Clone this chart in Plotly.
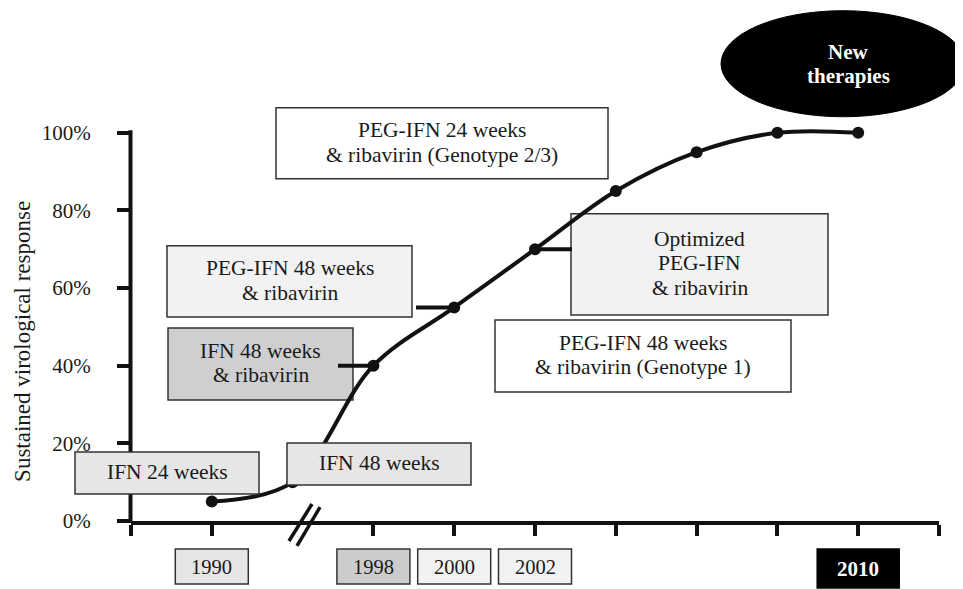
import plotly.graph_objects as go

# ---- data ----
x_idx = [1, 2, 3, 4, 5, 6, 7, 8, 9]
svr_pct = [5, 10, 40, 55, 70, 85, 95, 100, 100]
tick_positions = [0, 1, 3, 4, 5, 6, 7, 8, 9, 10]
year_idx = [1, 3, 4, 5, 9]
year_labels = ["1990", "1998", "2000", "2002", "2010"]
year_fills = ["#e6e6e6", "#cccccc", "#f2f2f2", "#f2f2f2", "#000000"]
y_ticks = [0, 20, 40, 60, 80, 100]

# the page body has an 8px default margin: work in reference pixels, shift by OFF
OFF = 8
W, H = 963 - OFF, 589 - OFF
YR = (0, 102)          # a little headroom so the 100% segment is not clipped
REF_L, REF_R, REF_B = 131, 939, 521
PX_PER_PCT = (521 - 133) / 100.0
REF_T = REF_B - (YR[1] - YR[0]) * PX_PER_PCT
ML, MT = REF_L - OFF, REF_T - OFF
MR, MB = W - (REF_R - OFF), H - (REF_B - OFF)
PW, PH = REF_R - REF_L, REF_B - REF_T
XR = (0, 10)

FONT = "Liberation Serif, Times New Roman, serif"
TXT = "#1a1a1a"
EDGE = "#333333"
INK = "#111111"


def px(p):  # reference pixel x -> paper
    return (p - REF_L) / PW


def py(p):  # reference pixel y -> paper
    return (REF_B - p) / PH


def dx(v):  # data x -> paper
    return (v - XR[0]) / (XR[1] - XR[0])


def dy(v):  # data y -> paper
    return (v - YR[0]) / (YR[1] - YR[0])


fig = go.Figure()
fig.add_trace(go.Scatter(
    x=x_idx, y=svr_pct, mode="lines+markers",
    line=dict(color=INK, width=4, shape="spline", smoothing=1.0),
    marker=dict(color=INK, size=12),
    cliponaxis=False, showlegend=False, hoverinfo="skip",
))

shapes = []
annotations = []


def add_text(lines, cx, cy, size, color, spacing, bold=False):
    n = len(lines)
    for i, ln in enumerate(lines):
        yy = cy + (i - (n - 1) / 2) * spacing
        annotations.append(dict(text=("<b>%s</b>" % ln) if bold else ln,
                                xref="paper", yref="paper",
                                x=px(cx), y=py(yy), xanchor="center", yanchor="middle",
                                showarrow=False,
                                font=dict(family=FONT, size=size, color=color)))


# y-axis line (stops just above the 100% tick)
shapes.append(dict(type="line", xref="paper", yref="paper",
                   x0=-0.5 / PW, x1=-0.5 / PW, y0=dy(0) - 2 / PH, y1=dy(100) + 2.5 / PH,
                   line=dict(color=INK, width=4), layer="above"))

# boxes: (lines, x0, x1, y0, y1, fill, layer)
boxes = [
    (["IFN 24 weeks"], 75, 259, 452, 494, "#e6e6e6", "above"),
    (["IFN 48 weeks"], 287, 471, 443, 485, "#e6e6e6", "above"),
    (["IFN 48 weeks", "& ribavirin"], 168, 353, 328, 400, "#cfcfcf", "below"),
    (["PEG-IFN 48 weeks", "& ribavirin"], 167, 412, 246, 317, "#f2f2f2", "below"),
    (["PEG-IFN 24 weeks", "& ribavirin (Genotype 2/3)"], 276, 608, 108, 179, "#ffffff", "below"),
    (["Optimized", "PEG-IFN", "& ribavirin"], 571, 828, 214, 315, "#f2f2f2", "below"),
    (["PEG-IFN 48 weeks", "& ribavirin (Genotype 1)"], 495, 791, 320, 392, "#ffffff", "below"),
]
for lines, x0, x1, y0, y1, fill, layer in boxes:
    shapes.append(dict(type="rect", xref="paper", yref="paper",
                       x0=px(x0), x1=px(x1), y0=py(y1), y1=py(y0),
                       fillcolor=fill, line=dict(color=EDGE, width=1.5), layer=layer))
    add_text(lines, (x0 + x1) / 2, (y0 + y1) / 2 - 1, 21.5, TXT, 24.5)

# connectors from boxes to data points
conn = [  # (index into data arrays, box edge reference pixel x)
    (2, 338),
    (3, 416),
    (4, 572),
]
for i, edge in conn:
    shapes.append(dict(type="line", xref="paper", yref="paper",
                       x0=px(edge), x1=dx(x_idx[i]), y0=dy(svr_pct[i]), y1=dy(svr_pct[i]),
                       line=dict(color=INK, width=4), layer="above"))

# year boxes
for xi, lab, fill in zip(year_idx, year_labels, year_fills):
    dark = fill == "#000000"
    y0, y1 = 549, (588 if dark else 584)
    hw = 41 if dark else 36.5
    shapes.append(dict(type="rect", xref="x", yref="paper",
                       x0=xi - hw * (XR[1] - XR[0]) / PW, x1=xi + hw * (XR[1] - XR[0]) / PW,
                       y0=py(y1), y1=py(y0),
                       fillcolor=fill, line=dict(color="#000000" if dark else EDGE, width=1.5)))
    annotations.append(dict(text=("<b>%s</b>" % lab) if dark else lab,
                            xref="x", yref="paper", x=xi, y=py((y0 + y1) / 2),
                            xanchor="center", yanchor="middle", showarrow=False,
                            font=dict(family=FONT, size=21 if dark else 20.5,
                                      color="#ffffff" if dark else TXT)))

# New therapies ellipse
shapes.append(dict(type="circle", xref="paper", yref="paper",
                   x0=px(721), x1=px(965), y0=py(117), y1=py(11),
                   fillcolor="#000000", line=dict(color="#000000", width=1)))
add_text(["New", "therapies"], 848, 64, 21, "#ffffff", 24, bold=True)

# axis break marks
for off in (0, 8):
    shapes.append(dict(type="line", xref="paper", yref="paper",
                       x0=px(289 + off), x1=px(312 + off), y0=py(541 + off * 0.6), y1=py(504 + off * 0.4),
                       line=dict(color=INK, width=3.5)))

# y-axis title
annotations.append(dict(text="Sustained virological response", xref="paper", yref="paper",
                        x=px(23), y=py(342), xanchor="center", yanchor="middle",
                        textangle=-90, showarrow=False,
                        font=dict(family=FONT, size=23, color=TXT)))

fig.update_layout(
    width=W, height=H,
    margin=dict(l=ML, r=MR, t=MT, b=MB, pad=0),
    paper_bgcolor="white", plot_bgcolor="rgba(0,0,0,0)",
    shapes=shapes, annotations=annotations,
    showlegend=False,
    xaxis=dict(range=list(XR), showgrid=False, zeroline=False, showline=True,
               linecolor=INK, linewidth=4, ticks="outside", ticklen=11,
               tickwidth=4, tickcolor=INK, tickvals=tick_positions,
               showticklabels=False, fixedrange=True),
    yaxis=dict(range=list(YR), showgrid=False, zeroline=False, showline=False,
               ticks="outside", ticklen=13,
               tickwidth=4, tickcolor=INK, tickvals=y_ticks,
               ticktext=["%d%%" % v for v in y_ticks],
               tickfont=dict(family=FONT, size=21, color=TXT),
               ticklabelstandoff=22, fixedrange=True),
)

fig.write_html("out.html")
